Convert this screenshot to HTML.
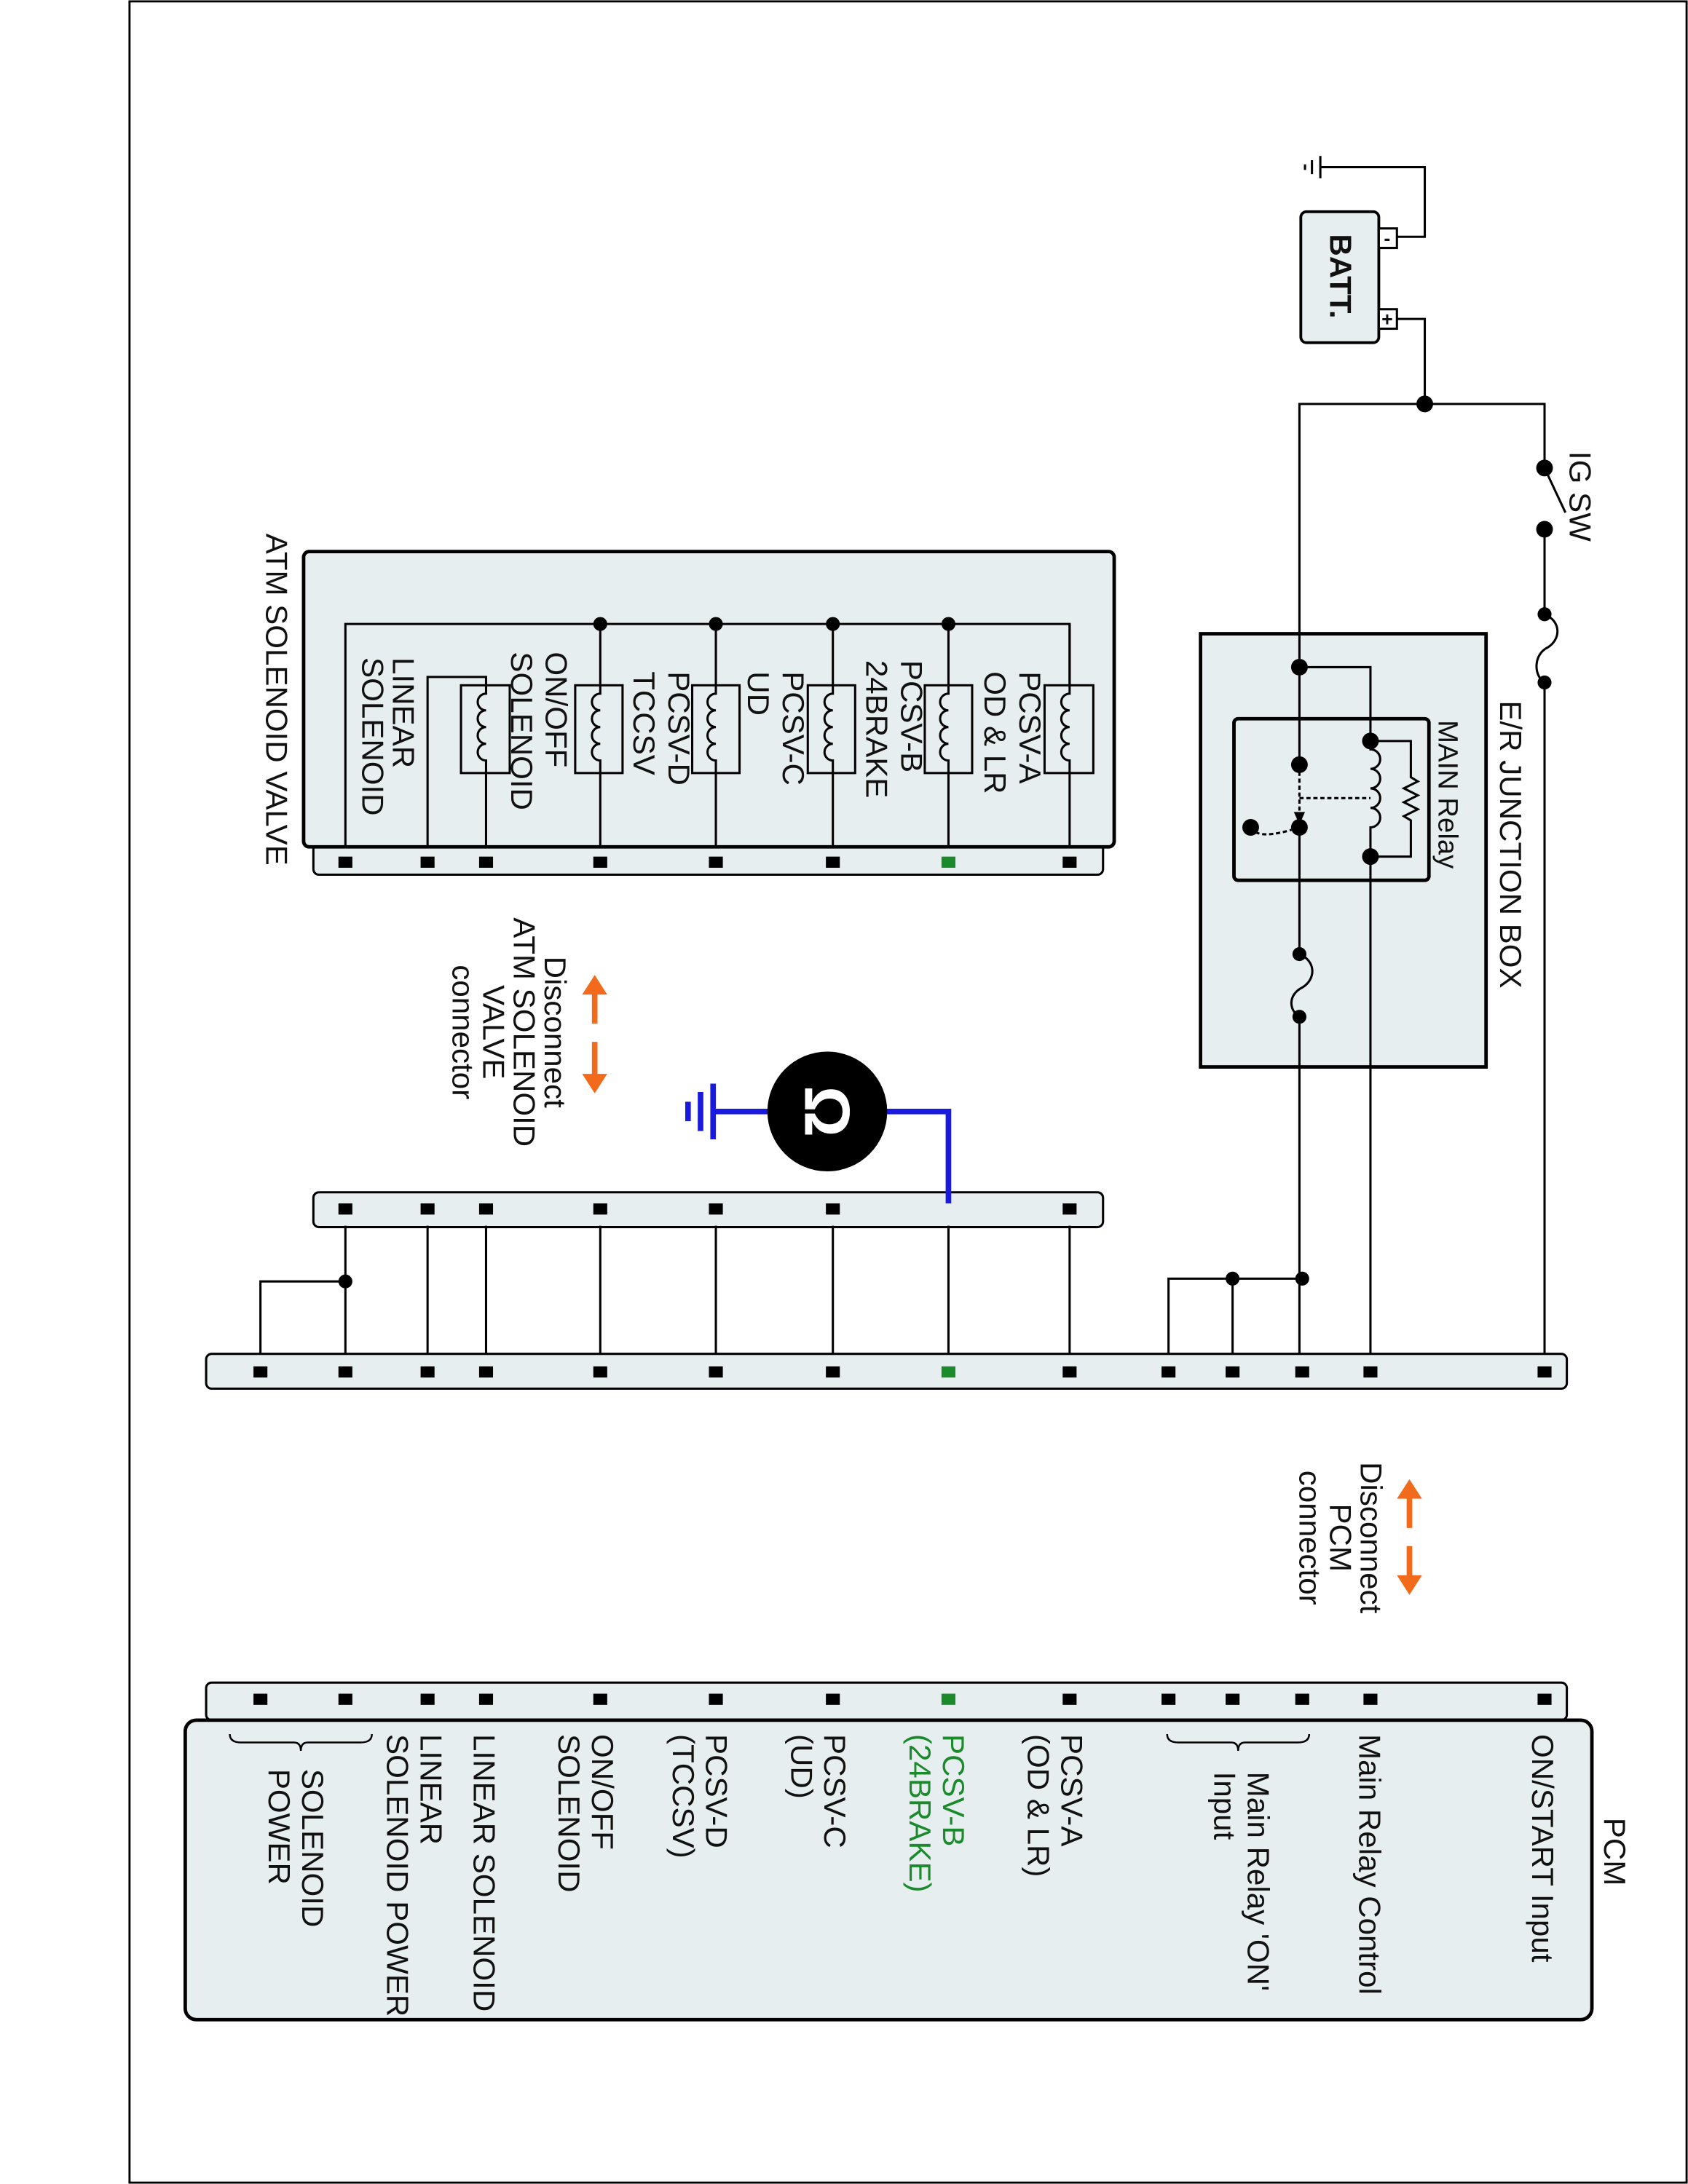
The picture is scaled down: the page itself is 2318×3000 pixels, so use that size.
<!DOCTYPE html>
<html><head><meta charset="utf-8"><style>
html,body{margin:0;padding:0;background:#fff;}
svg{display:block;}
text{font-family:"Liberation Sans",Arial,sans-serif;font-size:22px;fill:#111;}
</style></head><body>
<svg width="2318" height="3000" viewBox="0 0 1212 1568" preserveAspectRatio="none" xmlns="http://www.w3.org/2000/svg">
<defs>
<g id="pin"><rect x="-5" y="-4" width="10" height="8" fill="#000"/></g>
</defs>
<rect x="0" y="0" width="1212" height="1568" fill="#fff"/>
<rect x="93" y="1" width="1118" height="1566" fill="none" stroke="#000" stroke-width="1.5"/>

<g stroke="#000" stroke-width="1.6" fill="none">
<rect x="225" y="600" width="567" height="28" rx="4" fill="#e6eef0"/>
<rect x="218" y="396" width="582" height="212" rx="4" fill="#e6eef0" stroke-width="2.5"/>
<polyline points="248,608 248,448 768,448 768,492"/>
<line x1="431" y1="448" x2="431" y2="608"/>
<line x1="514" y1="448" x2="514" y2="608"/>
<line x1="598" y1="448" x2="598" y2="608"/>
<line x1="681" y1="448" x2="681" y2="608"/>
<line x1="768" y1="448" x2="768" y2="608"/>
<polyline points="307,608 307,486 349,486 349,608"/>
<g fill="#e6eef0">
<rect x="750" y="492" width="35" height="63"/>
<rect x="664" y="492" width="34" height="63"/>
<rect x="580" y="492" width="34" height="63"/>
<rect x="497" y="492" width="34" height="63"/>
<rect x="413" y="492" width="34" height="63"/>
<rect x="331" y="492" width="35" height="63"/>
</g>
<g id="coil"><path d="M768,492 v6 a6,6 0 0 0 0,12 a6,6 0 0 0 0,12 a6,6 0 0 0 0,12 a6,6 0 0 0 0,12 v9" fill="none"/></g>
<use href="#coil" x="-87"/><use href="#coil" x="-170"/><use href="#coil" x="-254"/><use href="#coil" x="-337"/><use href="#coil" x="-419"/>

<rect x="225" y="856" width="567" height="25" rx="4" fill="#e6eef0"/>
<rect x="148" y="972" width="977" height="25" rx="4" fill="#e6eef0"/>
<g>
<line x1="248" y1="880" x2="248" y2="972"/><line x1="307" y1="880" x2="307" y2="972"/>
<line x1="349" y1="880" x2="349" y2="972"/><line x1="431" y1="880" x2="431" y2="972"/>
<line x1="514" y1="880" x2="514" y2="972"/><line x1="598" y1="880" x2="598" y2="972"/>
<line x1="681" y1="880" x2="681" y2="972"/><line x1="768" y1="880" x2="768" y2="972"/>
<polyline points="248,920 187,920 187,972"/>
<polyline points="839,972 839,918 935,918"/><line x1="885" y1="918" x2="885" y2="972"/>
</g>
<rect x="148" y="1208" width="977" height="27" rx="4" fill="#e6eef0"/>
<rect x="133" y="1235" width="1010" height="215" rx="8" fill="#e6eef0" stroke-width="2.5"/>

<rect x="862" y="455" width="205" height="311" fill="#e6eef0" stroke-width="2.5"/>
<rect x="886" y="516" width="140" height="116" rx="3" stroke-width="2.5"/>
<polyline points="948,120 1023,120 1023,170 1003,170"/>
<polyline points="1003,229 1023,229 1023,290"/>
<polyline points="933,549 933,290 1109,290 1109,336"/>
<line x1="1109" y1="380" x2="1109" y2="441"/>
<line x1="1109" y1="336" x2="1124" y2="368"/>
<path d="M1109,441 c12,5 12,18 2,24 c-10,5 -10,20 -2,25"/>
<line x1="1109" y1="490" x2="1109" y2="972"/>
<polyline points="933,479 984,479 984,532"/>
<path d="M984,532 v6 a7,7 0 0 1 0,14 a7,7 0 0 1 0,14 a7,7 0 0 1 0,14 a7,7 0 0 1 0,14 v19"/>
<polyline points="984,532 1013,532 1013,558 1018,561 1008,566 1018,571 1008,576 1018,581 1008,586 1013,589 1013,615 984,615"/>
<line x1="984" y1="615" x2="984" y2="972"/>
<line x1="933" y1="594" x2="933" y2="685"/>
<path d="M933,685 c12,5 12,18 2,24 c-10,5 -10,16 -2,21"/>
<line x1="933" y1="730" x2="933" y2="972"/>
<line x1="933" y1="573" x2="984" y2="573" stroke-dasharray="3 2"/>
<line x1="933" y1="549" x2="933" y2="585" stroke-dasharray="3 2"/>
<path d="M898,594 q5,10 35,0" stroke-dasharray="3 2"/>
<line x1="948" y1="112" x2="948" y2="128"/>
<line x1="942" y1="115" x2="942" y2="125"/>
<line x1="937" y1="118" x2="937" y2="122"/>
<rect x="934" y="152" width="56" height="94" rx="4" fill="#e6eef0" stroke-width="2"/>
<rect x="990" y="164" width="13" height="14" fill="#fff"/>
<rect x="990" y="222" width="13" height="14" fill="#fff"/>
</g>
<polygon points="929,583 937,583 933,592" fill="#000"/>
<text x="996" y="176" style="font-size:14px;font-weight:bold" text-anchor="middle">-</text>
<text x="996" y="234" style="font-size:14px;font-weight:bold" text-anchor="middle">+</text>

<g fill="#000">
<circle cx="431" cy="448" r="5"/><circle cx="514" cy="448" r="5"/><circle cx="598" cy="448" r="5"/><circle cx="681" cy="448" r="5"/>
<circle cx="248" cy="920" r="5"/><circle cx="885" cy="918" r="5"/><circle cx="935" cy="918" r="5"/>
<circle cx="1023" cy="290" r="6"/><circle cx="1109" cy="336" r="6"/><circle cx="1109" cy="380" r="6"/>
<circle cx="1109" cy="441" r="5"/><circle cx="1109" cy="490" r="5"/>
<circle cx="933" cy="479" r="6"/><circle cx="984" cy="532" r="6"/><circle cx="984" cy="615" r="6"/>
<circle cx="933" cy="549" r="6"/><circle cx="933" cy="594" r="6"/><circle cx="898" cy="594" r="6"/>
<circle cx="933" cy="685" r="5"/><circle cx="933" cy="730" r="5"/>
</g>

<g>
<use href="#pin" x="248" y="619"/><use href="#pin" x="307" y="619"/><use href="#pin" x="349" y="619"/><use href="#pin" x="431" y="619"/><use href="#pin" x="514" y="619"/><use href="#pin" x="598" y="619"/><use href="#pin" x="768" y="619"/>
<rect x="676" y="615" width="10" height="8" fill="#1a8a2a"/>
<use href="#pin" x="248" y="868"/><use href="#pin" x="307" y="868"/><use href="#pin" x="349" y="868"/><use href="#pin" x="431" y="868"/><use href="#pin" x="514" y="868"/><use href="#pin" x="598" y="868"/><use href="#pin" x="768" y="868"/>
<use href="#pin" x="187" y="985"/><use href="#pin" x="248" y="985"/><use href="#pin" x="307" y="985"/><use href="#pin" x="349" y="985"/><use href="#pin" x="431" y="985"/><use href="#pin" x="514" y="985"/><use href="#pin" x="598" y="985"/><use href="#pin" x="768" y="985"/><use href="#pin" x="839" y="985"/><use href="#pin" x="885" y="985"/><use href="#pin" x="935" y="985"/><use href="#pin" x="984" y="985"/><use href="#pin" x="1109" y="985"/>
<rect x="676" y="981" width="10" height="8" fill="#1a8a2a"/>
<use href="#pin" x="187" y="1220"/><use href="#pin" x="248" y="1220"/><use href="#pin" x="307" y="1220"/><use href="#pin" x="349" y="1220"/><use href="#pin" x="431" y="1220"/><use href="#pin" x="514" y="1220"/><use href="#pin" x="598" y="1220"/><use href="#pin" x="768" y="1220"/><use href="#pin" x="839" y="1220"/><use href="#pin" x="885" y="1220"/><use href="#pin" x="935" y="1220"/><use href="#pin" x="984" y="1220"/><use href="#pin" x="1109" y="1220"/>
<rect x="676" y="1216" width="10" height="8" fill="#1a8a2a"/>
</g>

<polyline points="681,864 681,798 630,798" fill="none" stroke="#1a1adf" stroke-width="4"/>
<line x1="556" y1="798" x2="512" y2="798" stroke="#1a1adf" stroke-width="4"/>
<line x1="512" y1="778" x2="512" y2="818" stroke="#1a1adf" stroke-width="4"/>
<line x1="503" y1="784" x2="503" y2="812" stroke="#1a1adf" stroke-width="4"/>
<line x1="494" y1="791" x2="494" y2="805" stroke="#1a1adf" stroke-width="4"/>
<circle cx="594" cy="798" r="43" fill="#000"/>
<text transform="translate(578,798) rotate(90)" text-anchor="middle" style="font-size:46px;font-weight:bold;fill:#fff">Ω</text>

<g fill="#f26a1b" stroke="#f26a1b">
<line x1="427" y1="712" x2="427" y2="735" stroke-width="4"/>
<line x1="427" y1="748" x2="427" y2="773" stroke-width="4"/>
<polygon points="418,714 436,714 427,700" stroke="none"/>
<polygon points="418,771 436,771 427,785" stroke="none"/>
<line x1="1012" y1="1074" x2="1012" y2="1097" stroke-width="4"/>
<line x1="1012" y1="1110" x2="1012" y2="1133" stroke-width="4"/>
<polygon points="1003,1076 1021,1076 1012,1062" stroke="none"/>
<polygon points="1003,1131 1021,1131 1012,1145" stroke="none"/>
</g>

<g fill="none" stroke="#000" stroke-width="1.3">
<path d="M838,1245 q0,6 8,6 h38 q5,0 5,6 q0,-6 5,-6 h38 q8,0 8,-6"/>
<path d="M165,1245 q0,6 8,6 h38 q5,0 5,6 q0,-6 5,-6 h38 q8,0 8,-6"/>
</g>

<g>
<text transform="translate(191,383) rotate(90)">ATM SOLENOID VALVE</text>
<text transform="translate(1077,503) rotate(90)">E/R JUNCTION BOX</text>
<text transform="translate(1033,517) rotate(90)" style="font-size:20px">MAIN Relay</text>
<text transform="translate(1127,324) rotate(90)">IG SW</text>
<text transform="translate(955,168) rotate(90)" style="font-weight:bold">BATT.</text>
<text transform="translate(732,482) rotate(90)">PCSV-A</text>
<text transform="translate(707,482) rotate(90)">OD &amp; LR</text>
<text transform="translate(647,474) rotate(90)">PCSV-B</text>
<text transform="translate(622,474) rotate(90)">24BRAKE</text>
<text transform="translate(562,482) rotate(90)">PCSV-C</text>
<text transform="translate(537,482) rotate(90)">UD</text>
<text transform="translate(480,482) rotate(90)">PCSV-D</text>
<text transform="translate(455,482) rotate(90)">TCCSV</text>
<text transform="translate(392,468) rotate(90)">ON/OFF</text>
<text transform="translate(367,468) rotate(90)">SOLENOID</text>
<text transform="translate(282,472) rotate(90)">LINEAR</text>
<text transform="translate(260,472) rotate(90)">SOLENOID</text>
<g style="font-size:20px">
<text transform="translate(391,741) rotate(90)" text-anchor="middle">Disconnect</text>
<text transform="translate(369,741) rotate(90)" text-anchor="middle">ATM SOLENOID</text>
<text transform="translate(347,741) rotate(90)" text-anchor="middle">VALVE</text>
<text transform="translate(325,741) rotate(90)" text-anchor="middle">connector</text>
<text transform="translate(977,1104) rotate(90)" text-anchor="middle">Disconnect</text>
<text transform="translate(955,1104) rotate(90)" text-anchor="middle">PCM</text>
<text transform="translate(933,1104) rotate(90)" text-anchor="middle">connector</text>
</g>
<text transform="translate(1152,1305) rotate(90)">PCM</text>
<text transform="translate(1100,1245) rotate(90)">ON/START Input</text>
<text transform="translate(976,1245) rotate(90)">Main Relay Control</text>
<text transform="translate(896,1272) rotate(90)">Main Relay 'ON'</text>
<text transform="translate(872,1272) rotate(90)">Input</text>
<text transform="translate(762,1245) rotate(90)">PCSV-A</text>
<text transform="translate(738,1245) rotate(90)">(OD &amp; LR)</text>
<text transform="translate(677,1245) rotate(90)" style="fill:#1a8a2a">PCSV-B</text>
<text transform="translate(653,1245) rotate(90)" style="fill:#1a8a2a">(24BRAKE)</text>
<text transform="translate(592,1245) rotate(90)">PCSV-C</text>
<text transform="translate(568,1245) rotate(90)">(UD)</text>
<text transform="translate(507,1245) rotate(90)">PCSV-D</text>
<text transform="translate(483,1245) rotate(90)">(TCCSV)</text>
<text transform="translate(425,1245) rotate(90)">ON/OFF</text>
<text transform="translate(401,1245) rotate(90)">SOLENOID</text>
<text transform="translate(340,1245) rotate(90)">LINEAR SOLENOID</text>
<text transform="translate(302,1245) rotate(90)">LINEAR</text>
<text transform="translate(278,1245) rotate(90)">SOLENOID POWER</text>
<text transform="translate(217,1270) rotate(90)">SOLENOID</text>
<text transform="translate(193,1270) rotate(90)">POWER</text>
</g>
</svg>
</body></html>
